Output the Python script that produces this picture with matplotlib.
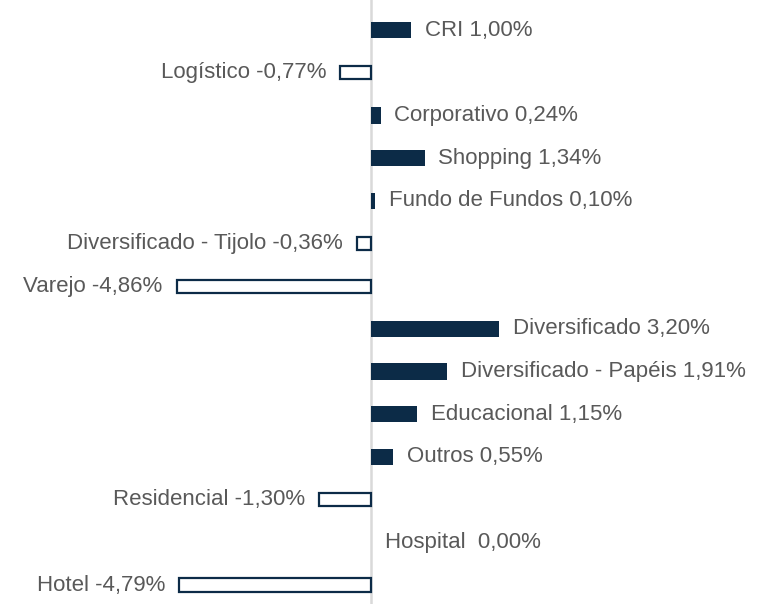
import matplotlib.pyplot as plt

categorias = ['CRI', 'Logístico', 'Corporativo', 'Shopping', 'Fundo de Fundos',
              'Diversificado - Tijolo', 'Varejo', 'Diversificado',
              'Diversificado - Papéis', 'Educacional', 'Outros', 'Residencial',
              'Hospital', 'Hotel']
valores = [1.00, -0.77, 0.24, 1.34, 0.10, -0.36, -4.86, 3.20, 1.91, 1.15,
           0.55, -1.30, 0.00, -4.79]

navy = '#0c2b47'
cinza = '#595959'

plt.rcParams['font.family'] = ['Liberation Sans', 'DejaVu Sans']

fig = plt.figure(figsize=(7.71, 6.04), dpi=100)
ax = fig.add_axes([0, 0, 1, 1])

for i, v in enumerate(valores):
    if v >= 0:
        ax.barh(i, v, height=0.38, color=navy, zorder=2)
    else:
        ax.barh(i, v, height=0.31, facecolor='white', edgecolor=navy,
                linewidth=1.6, zorder=2)

    txt = '%s %s%%' % (categorias[i], ('%.2f' % v).replace('.', ','))
    if categorias[i] == 'Hospital':
        txt = 'Hospital  0,00%'
    if v >= 0:
        ax.annotate(txt, (v, i), xytext=(10, 0), textcoords='offset points',
                    ha='left', va='center', fontsize=16, color=cinza)
    else:
        ax.annotate(txt, (v, i), xytext=(-10, 0), textcoords='offset points',
                    ha='right', va='center', fontsize=16, color=cinza)

ax.axvline(0, color='#d9d9d9', linewidth=1.8, zorder=1)

ax.set_xlim(-9.275, 10.0)
ax.set_ylim(13.445, -0.703)
ax.axis('off')

fig.savefig('out.png', dpi=100)
